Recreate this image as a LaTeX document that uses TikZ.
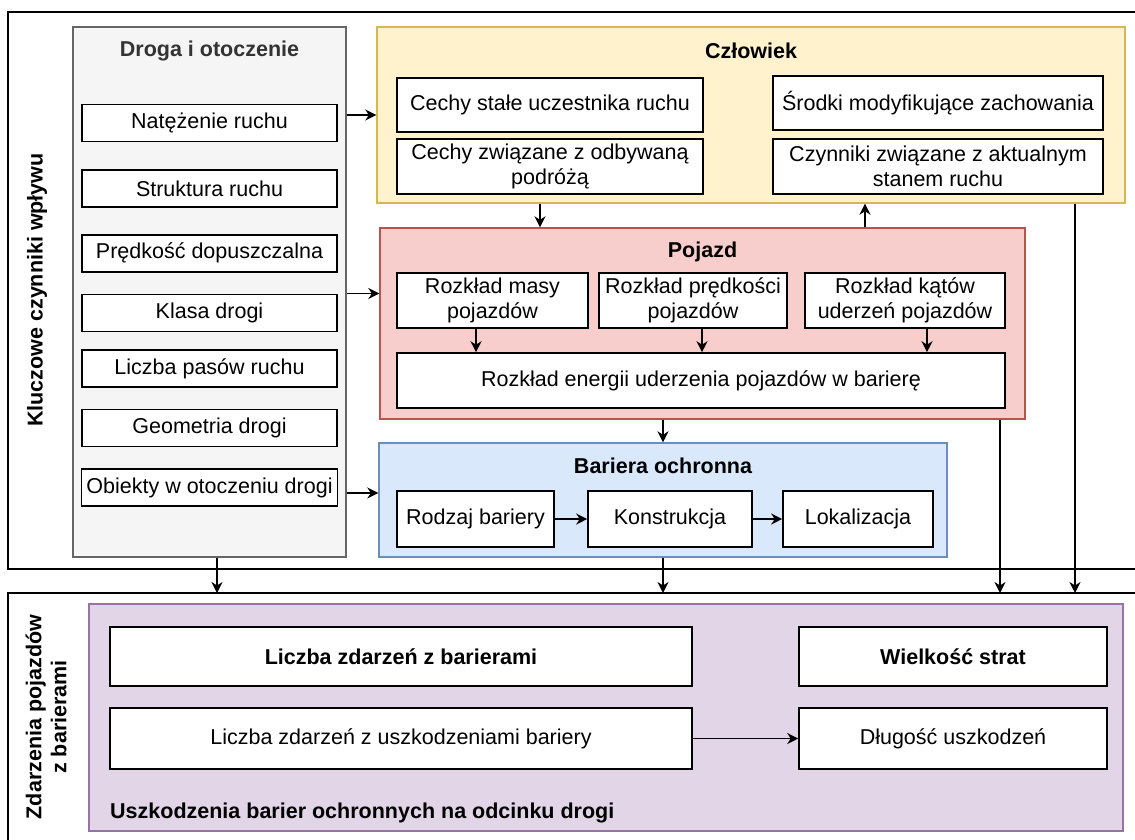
\documentclass[tikz,border=0pt]{standalone}
\usepackage{fontspec}
\setmainfont{Liberation Sans}
\usetikzlibrary{arrows.meta,positioning}
\definecolor{roadfill}{HTML}{F5F5F5}
\definecolor{roadline}{HTML}{666666}
\definecolor{roadtext}{HTML}{333333}
\definecolor{humanfill}{HTML}{FFF2CC}
\definecolor{humanline}{HTML}{D6B656}
\definecolor{carfill}{HTML}{F8CECC}
\definecolor{carline}{HTML}{B85450}
\definecolor{barfill}{HTML}{DAE8FC}
\definecolor{barline}{HTML}{6C8EBF}
\definecolor{lossfill}{HTML}{E1D5E7}
\definecolor{lossline}{HTML}{9673A6}
\tikzset{
  panel/.style={draw, line width=1.4pt, inner sep=0pt},
  box/.style={draw=black, fill=white, line width=1.6pt, align=center, inner sep=1pt,
              font=\fontsize{21.5}{25}\selectfont},
  ttl/.style={font=\fontsize{21.5}{25}\selectfont\bfseries, inner sep=0pt, align=center},
  arr/.style={-{Stealth[length=11pt, width=11pt, inset=3.5pt]}, line width=1.5pt},
  frame/.style={line width=1.6pt}
}

\begin{document}
\begin{tikzpicture}[x=1pt, y=-1pt]
  \useasboundingbox (0,0) rectangle (1135,839);
  % outer frames, open to the right
  \coordinate (topframe) at (8,12);
  \coordinate (lowframe) at (8,593);
  \draw[frame] (1140,12) -| (8,569) -- (1140,569);
  \draw[frame] (1140,593) -| (8,845);
  \node[ttl, rotate=90] (factors) at (37,290) {Kluczowe czynniki wpływu};
  \node[ttl, rotate=90] (events) at (46,717) {Zdarzenia pojazdów\\z barierami};

  % Droga i otoczenie
  \node[panel, draw=roadline, fill=roadfill, minimum width=273pt, minimum height=530pt] (road) at (209.5,292) {};
  \node[ttl, text=roadtext] (roadttl) at ([yshift=-25pt]road.north) {Droga i otoczenie};
  \node[box, minimum width=255pt, minimum height=37pt] (flow) at (209.5,123) {Natężenie ruchu};
  \node[box, minimum width=255pt, minimum height=37pt, below=27pt of flow] (mix) {Struktura ruchu};
  \node[box, minimum width=255pt, minimum height=37pt, below=26pt of mix] (speed) {Prędkość dopuszczalna};
  \node[box, minimum width=255pt, minimum height=37pt, below=21pt of speed] (cls) {Klasa drogi};
  \node[box, minimum width=255pt, minimum height=37pt, below=17pt of cls] (lanes) {Liczba pasów ruchu};
  \node[box, minimum width=255pt, minimum height=37pt, below=21pt of lanes] (geom) {Geometria drogi};
  \node[box, minimum width=256pt, minimum height=37pt, below=21pt of geom] (objs) {Obiekty w otoczeniu drogi};

  % Człowiek
  \node[panel, draw=humanline, fill=humanfill, minimum width=748pt, minimum height=176pt] (human) at (751,115) {};
  \node[ttl] (humanttl) at ([yshift=-25pt]human.north) {Człowiek};
  \node[box, minimum width=306pt, minimum height=54pt] (fixed) at (550,105) {Cechy stałe uczestnika ruchu};
  \node[box, minimum width=306pt, minimum height=55pt, below=5.4pt of fixed] (trip) {Cechy związane z odbywaną\\podróżą};
  \node[box, minimum width=330pt, minimum height=54pt] (means) at (938,103) {Środki modyfikujące zachowania};
  \node[box, minimum width=330pt, minimum height=55pt, below=7.4pt of means] (state) {Czynniki związane z aktualnym\\stanem ruchu};

  % Pojazd
  \node[panel, draw=carline, fill=carfill, minimum width=645pt, minimum height=191pt] (car) at (702.5,323.5) {};
  \node[ttl] (carttl) at ([yshift=-25pt]car.north) {Pojazd};
  \node[box, minimum width=191pt, minimum height=55pt] (mass) at (492.5,300.5) {Rozkład masy\\pojazdów};
  \node[box, minimum width=188pt, minimum height=55pt, right=9.4pt of mass] (vel) {Rozkład prędkości\\pojazdów};
  \node[box, minimum width=200pt, minimum height=55pt, right=16.4pt of vel] (angle) {Rozkład kątów\\uderzeń pojazdów};
  \node[box, minimum width=608pt, minimum height=55pt] (energy) at (701,380.5) {Rozkład energii uderzenia pojazdów w barierę};

  % Bariera ochronna
  \node[panel, draw=barline, fill=barfill, minimum width=568pt, minimum height=114pt] (barrier) at (663,500) {};
  \node[ttl] (barttl) at ([yshift=-24pt]barrier.north) {Bariera ochronna};
  \node[box, minimum width=157pt, minimum height=56pt] (type) at (475.5,519) {Rodzaj bariery};
  \node[box, minimum width=164pt, minimum height=56pt, right=32.4pt of type] (build) {Konstrukcja};
  \node[box, minimum width=150pt, minimum height=56pt, right=29.4pt of build] (place) {Lokalizacja};

  % Uszkodzenia barier
  \node[panel, draw=lossline, fill=lossfill, minimum width=1034pt, minimum height=227pt] (loss) at (606,717.5) {};
  \node[box, minimum width=582pt, minimum height=59pt] (count) at (401,656.5) {\textbf{Liczba zdarzeń z barierami}};
  \node[box, minimum width=308pt, minimum height=59pt] (cost) at (953,656.5) {\textbf{Wielkość strat}};
  \node[box, minimum width=582pt, minimum height=61pt] (damage) at (401,738.5) {Liczba zdarzeń z uszkodzeniami bariery};
  \node[box, minimum width=308pt, minimum height=61pt] (length) at (953,738.5) {Długość uszkodzeń};
  \node[ttl, anchor=west] (losscap) at (110,813) {Uszkodzenia barier ochronnych na odcinku drogi};

  % connectors
  \coordinate (barin) at ([yshift=7pt]barrier.west);
  \coordinate (roadx) at (217,0);
  \coordinate (downx) at (540,0);
  \coordinate (upx) at (865,0);
  \coordinate (carx) at (1000,0);
  \coordinate (rightx) at (1075,0);
  \coordinate (m1) at (476,0);
  \coordinate (m2) at (702,0);
  \coordinate (m3) at (927,0);
  \draw[arr] (road.east |- human.west) -- (human.west);
  \draw[arr] (cls.north -| road.east) -- (cls.north -| car.west);
  \draw[arr] (road.east |- barin) -- (barin);
  \draw[arr] (downx |- human.south) -- (downx |- car.north);
  \draw[arr] (upx |- car.north) -- (upx |- human.south);
  \draw[arr] (rightx |- human.south) -- (rightx |- lowframe);
  \draw[arr] (carx |- car.south) -- (carx |- lowframe);
  \draw[arr] (car.south -| barrier.north) -- (barrier.north);
  \draw[arr] (barrier.south) -- (barrier.south |- lowframe);
  \draw[arr] (roadx |- road.south) -- (roadx |- lowframe);
  \draw[arr] (m1 |- mass.south) -- (m1 |- energy.north);
  \draw[arr] (m2 |- vel.south) -- (m2 |- energy.north);
  \draw[arr] (m3 |- angle.south) -- (m3 |- energy.north);
  \draw[arr] (type) -- (build);
  \draw[arr] (build) -- (place);
  \draw[arr] (damage) -- (length);
\end{tikzpicture}
\end{document}
